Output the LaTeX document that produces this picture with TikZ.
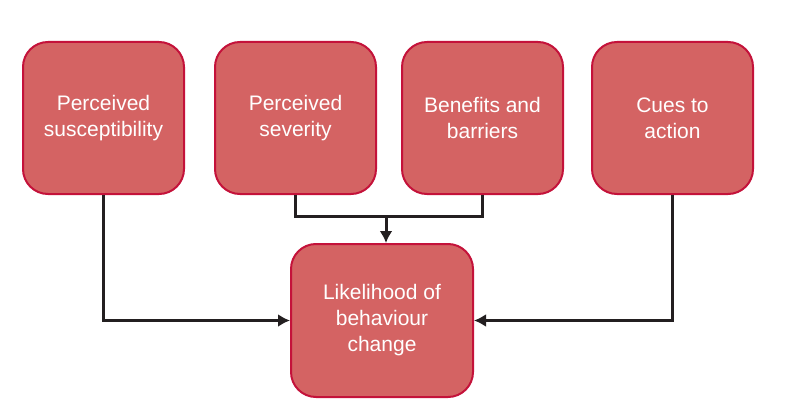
\documentclass[tikz,border=0pt]{standalone}
\usepackage{fontspec}
\setmainfont{Liberation Sans}
\usepackage{tikz}
\usetikzlibrary{arrows.meta}
\definecolor{boxfill}{HTML}{D46363}
\definecolor{boxline}{HTML}{C4123A}
\definecolor{linkcol}{HTML}{231F20}
\tikzset{
    factor/.style={draw=boxline, fill=boxfill, line width=2pt, rounded corners=25pt,
        minimum width=161pt, minimum height=152pt, align=center, text=white,
        font=\fontsize{21}{26}\selectfont},
    link/.style={draw=linkcol, line width=3pt, -{Latex[length=12pt,width=13pt]}}
}

\begin{document}
\begin{tikzpicture}[x=1pt,y=1pt]
    \useasboundingbox (0,0) rectangle (792,416);
    % the four factors
    \node[factor] (susc) at (103.5,298) {Perceived\\susceptibility};
    \node[factor] (sev) at (295.5,298) {Perceived\\severity};
    \node[factor] (ben) at (482.5,298) {Benefits and\\barriers};
    \node[factor] (cues) at (672.5,298) {Cues to\\action};
    % outcome
    \node[factor, minimum width=182pt, minimum height=153pt] (change) at (382,95.5) {Likelihood of\\behaviour\\change};
    % links
    \coordinate (join) at (386,200);
    \draw[link] (susc.south) |- (change.west);
    \draw[link] (cues.south) |- (change.east);
    \draw[draw=linkcol, line width=3pt] (sev.south) |- (join) -| (ben.south);
    \draw[link] (join) -- (join |- change.north);
\end{tikzpicture}
\end{document}
